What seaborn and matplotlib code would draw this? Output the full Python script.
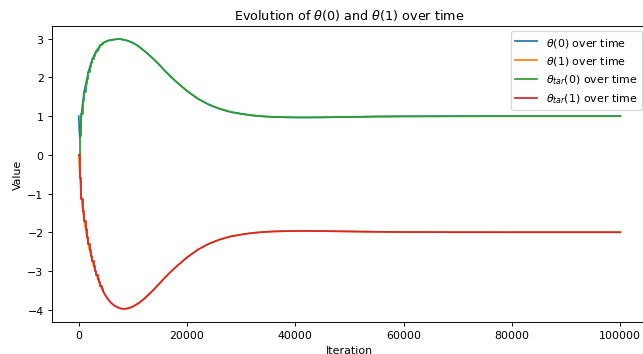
import matplotlib
matplotlib.use("Agg")
import matplotlib.pyplot as plt
import seaborn as sns
import pandas as pd

# Iteration grid for the learned parameters
iterations = [0, 100, 200, 300, 500, 750, 1000, 1500, 2000, 2500, 3000, 3500, 4000,
              4500, 5000, 5500, 6000, 6500, 7000, 7500, 8000, 8500, 9000, 9500, 10000,
              11000, 12000, 13000, 14000, 15000, 16000, 17000, 18000, 19000, 20000,
              22000, 24000, 26000, 28000, 30000, 32000, 34000, 36000, 38000, 40000,
              42000, 45000, 50000, 55000, 60000, 70000, 80000, 90000, 100000]

theta0 = [1.0, 0.62, 0.45, 0.6, 1.05, 1.38, 1.63, 1.97, 2.26, 2.47, 2.62, 2.74, 2.83,
          2.89, 2.93, 2.955, 2.97, 2.98, 2.99, 2.99, 2.985, 2.97, 2.95, 2.925, 2.895,
          2.81, 2.70, 2.58, 2.45, 2.31, 2.16, 2.02, 1.89, 1.77, 1.65,
          1.45, 1.30, 1.19, 1.11, 1.06, 1.02, 0.995, 0.98, 0.972, 0.968,
          0.967, 0.97, 0.98, 0.99, 0.995, 0.999, 1.0, 1.0, 1.0]

theta1 = [0.0, -0.25, -0.55, -0.75, -1.15, -1.45, -1.70, -2.12, -2.47, -2.75, -2.99, -3.20, -3.38,
          -3.53, -3.65, -3.75, -3.83, -3.89, -3.93, -3.96, -3.98, -3.98, -3.97, -3.95, -3.92,
          -3.84, -3.73, -3.60, -3.46, -3.31, -3.16, -3.02, -2.89, -2.77, -2.65,
          -2.45, -2.30, -2.19, -2.11, -2.06, -2.02, -1.995, -1.98, -1.972, -1.968,
          -1.967, -1.97, -1.98, -1.99, -1.995, -1.999, -2.0, -2.0, -2.0]

# Target parameters: periodically copied (staircase) early on
tar_step_iters = [0, 250, 500, 750, 1000, 1250, 1500, 1750, 2000, 2250, 2500, 2750,
                  3000, 3250, 3500, 3750, 4000, 4250, 4500]
tar0_steps = [0.0, 0.5, 1.05, 1.38, 1.63, 1.82, 1.97, 2.13, 2.26, 2.37, 2.47, 2.55,
              2.62, 2.68, 2.74, 2.79, 2.83, 2.86, 2.89]
tar1_steps = [0.0, -0.6, -1.15, -1.45, -1.70, -1.92, -2.12, -2.30, -2.47, -2.62, -2.75, -2.88,
              -2.99, -3.10, -3.20, -3.29, -3.38, -3.46, -3.53]

# After the early phase the targets track the parameters closely
late_start = iterations.index(4500)
tar_late_iters = iterations[late_start:]
tar0_late = theta0[late_start:]
tar1_late = theta1[late_start:]

colors = ["#1f77b4", "#ff7f0e", "#2ca02c", "#d62728"]

DPI = 83.6
fig = plt.figure(figsize=(643 / DPI, 355 / DPI), dpi=DPI)
ax = fig.add_axes([0.0804, 0.0893, 0.9264, 0.8355])

df_main = pd.DataFrame({"Iteration": iterations, "t0": theta0, "t1": theta1})
df_steps = pd.DataFrame({"Iteration": tar_step_iters, "a0": tar0_steps, "a1": tar1_steps})
df_late = pd.DataFrame({"Iteration": tar_late_iters, "b0": tar0_late, "b1": tar1_late})

sns.lineplot(data=df_main, x="Iteration", y="t0", ax=ax, color=colors[0],
             label=r"$\theta(0)$ over time", linewidth=1.5)
sns.lineplot(data=df_main, x="Iteration", y="t1", ax=ax, color=colors[1],
             label=r"$\theta(1)$ over time", linewidth=1.5)
sns.lineplot(data=df_steps, x="Iteration", y="a0", ax=ax, color=colors[2],
             label=r"$\theta_{tar}(0)$ over time", linewidth=1.5, drawstyle="steps-post")
sns.lineplot(data=df_late, x="Iteration", y="b0", ax=ax, color=colors[2], linewidth=1.5)
sns.lineplot(data=df_steps, x="Iteration", y="a1", ax=ax, color=colors[3],
             label=r"$\theta_{tar}(1)$ over time", linewidth=1.5, drawstyle="steps-post")
sns.lineplot(data=df_late, x="Iteration", y="b1", ax=ax, color=colors[3], linewidth=1.5)

ax.set_title(r"Evolution of $\theta(0)$ and $\theta(1)$ over time", fontsize=11)
ax.set_xlabel("Iteration", fontsize=9.5)
ax.set_ylabel("Value", fontsize=9.5)
ax.tick_params(labelsize=9.5)

handles, labels = ax.get_legend_handles_labels()
ax.legend(handles[:4], labels[:4], loc="upper right", fontsize=9.5)

fig.savefig("out.png", dpi=DPI)
